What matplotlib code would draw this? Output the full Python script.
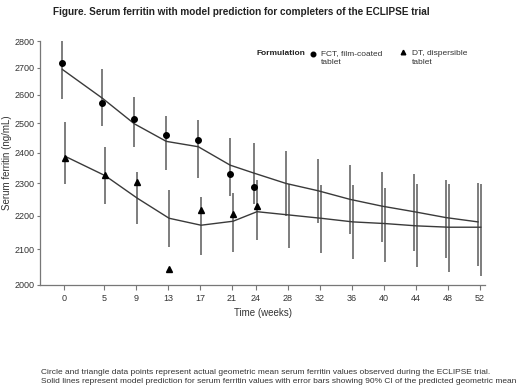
import matplotlib.pyplot as plt
import matplotlib.ticker as ticker

plt.rcParams['font.family'] = ['Liberation Sans', 'DejaVu Sans']

# model prediction time points (weeks)
weeks = [0, 5, 9, 13, 17, 21, 24, 28, 32, 36, 40, 44, 48, 52]

fct_model = [2693, 2588, 2498, 2438, 2420, 2359, 2333, 2300, 2277, 2250, 2229, 2212, 2194, 2181]
fct_low = [2584, 2489, 2418, 2342, 2316, 2259, 2237, 2199, 2177, 2144, 2122, 2095, 2074, 2053]
fct_high = [2809, 2695, 2592, 2524, 2510, 2451, 2431, 2405, 2380, 2360, 2336, 2332, 2311, 2302]

dt_model = [2388, 2325, 2254, 2192, 2171, 2183, 2212, 2202, 2192, 2181, 2176, 2169, 2165, 2165]
dt_low = [2297, 2235, 2175, 2107, 2082, 2093, 2126, 2105, 2090, 2072, 2063, 2048, 2036, 2025]
dt_high = [2504, 2419, 2336, 2278, 2257, 2271, 2310, 2299, 2294, 2296, 2287, 2297, 2297, 2297]

# observed geometric means
obs_weeks = [0, 5, 9, 13, 17, 21, 24]
fct_obs = [2718, 2572, 2515, 2461, 2443, 2329, 2289]
dt_obs = [2381, 2326, 2306, 2044, 2216, 2206, 2229]

y_ticks = [2000, 2100, 2200, 2300, 2400, 2500, 2600, 2700, 2800]

fig = plt.figure(figsize=(5.2, 3.89), dpi=100)
ax = fig.add_axes([0.077, 0.2686, 0.856, 0.6252])

off_f = -0.2
off_d = 0.15
xf = [w + off_f for w in weeks]
xd = [w + off_d for w in weeks]
xof = [w + off_f for w in obs_weeks]
xod = [w + off_d for w in obs_weeks]

bar_col = '#5a5a5a'
line_col = '#3a3a3a'
ax.vlines(xf, fct_low, fct_high, color=bar_col, linewidth=1.1, zorder=2)
ax.vlines(xd, dt_low, dt_high, color=bar_col, linewidth=1.1, zorder=2)
ax.plot(xf, fct_model, color=line_col, linewidth=1.0, zorder=3)
ax.plot(xd, dt_model, color=line_col, linewidth=1.0, zorder=3)
ax.plot(xof, fct_obs, 'o', color='black', markersize=4, zorder=4)
ax.plot(xod, dt_obs, '^', color='black', markersize=4, zorder=4)

ax.set_yscale('log')
ax.set_ylim(2000, 2800)
ax.set_xlim(-3, 52.7)
ax.yaxis.set_major_locator(ticker.FixedLocator(y_ticks))
ax.yaxis.set_major_formatter(ticker.StrMethodFormatter("{x:.0f}"))
ax.yaxis.set_minor_locator(ticker.NullLocator())
ax.set_xticks(weeks)

for s in ['top', 'right']:
    ax.spines[s].set_visible(False)
for s in ['left', 'bottom']:
    ax.spines[s].set_color('#777777')
    ax.spines[s].set_linewidth(0.9)
ax.tick_params(axis='both', labelsize=6.5, colors='#777777', labelcolor='#333333', width=0.8)
ax.tick_params(axis='y', length=2.5, pad=1.5)
ax.tick_params(axis='x', length=3.5, pad=3)

ax.set_xlabel("Time (weeks)", fontsize=7, color='#333333', labelpad=4)
ax.set_ylabel("Serum ferritin (ng/mL)", fontsize=7, color='#333333', labelpad=1.5)

fig.text(0.102, 0.982, "Figure. Serum ferritin with model prediction for completers of the ECLIPSE trial",
         fontsize=7.2, fontweight='bold', va='top', ha='left', color='#222222')

# legend
fig.text(0.494, 0.862, "Formulation", fontsize=6, fontweight='bold', va='center', ha='left',
         color='#222222')
ax.plot([0.6025], [0.861], 'o', color='black', markersize=3.3, transform=fig.transFigure, clip_on=False)
ax.plot([0.7756], [0.866], '^', color='black', markersize=3.3, transform=fig.transFigure, clip_on=False)
fig.text(0.617, 0.851, "FCT, film-coated\ntablet", fontsize=6, va='center', ha='left',
         color='#333333', linespacing=1.4)
fig.text(0.7917, 0.851, "DT, dispersible\ntablet", fontsize=6, va='center', ha='left',
         color='#333333', linespacing=1.4)

fig.text(0.079, 0.031, "Circle and triangle data points represent actual geometric mean serum ferritin values observed during the ECLIPSE trial.\n"
         "Solid lines represent model prediction for serum ferritin values with error bars showing 90% CI of the predicted geometric mean",
         fontsize=6.05, va='center', ha='left', color='#333333', linespacing=1.25)

fig.savefig("out.png", dpi=100)
